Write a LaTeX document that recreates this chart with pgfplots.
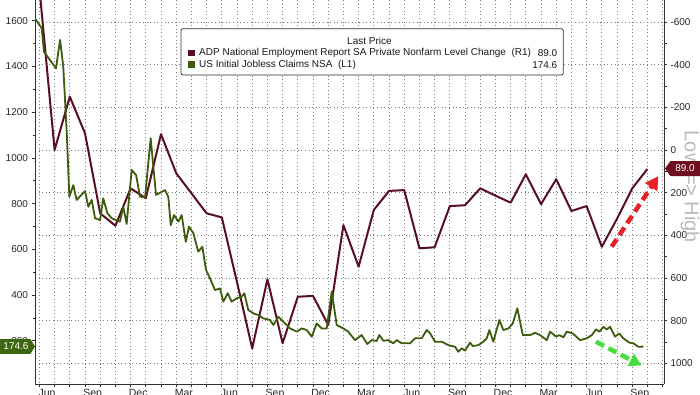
\documentclass[border=0pt]{standalone}
\usepackage{pgfplots}
\pgfplotsset{compat=1.18}
\usepackage{fontspec}
\setmainfont{Liberation Sans}
\usetikzlibrary{arrows.meta}
\definecolor{adp}{RGB}{88,16,32}
\definecolor{clm}{RGB}{60,92,14}
\definecolor{tagred}{RGB}{112,14,32}
\definecolor{taggreen}{RGB}{62,102,14}
\definecolor{arrred}{RGB}{232,32,42}
\definecolor{arrgreen}{RGB}{70,222,60}
\definecolor{gridc}{RGB}{125,125,125}
\definecolor{lowhigh}{RGB}{185,185,185}
\begin{document}
\begin{tikzpicture}[x=1pt,y=1pt]
\pgfplotsset{
  common/.style={
    at={(35pt,10pt)}, anchor=south west,
    scale only axis, width=629pt, height=384pt,
    xmin=-0.29, xmax=41.09,
    clip mode=individual,
    tick label style={font=\fontsize{10}{12}\selectfont, text=black!85},
    /pgf/number format/assume math mode=true,
    /pgf/number format/1000 sep={},
    tick align=outside,
    major tick length=3.5pt, minor tick length=2.5pt,
    tick style={black!80, line width=0.7pt},
    axis line style={black!80, line width=0.8pt},
    major grid style={gridc, line width=0.9pt, dash pattern=on 1pt off 2.6pt},
  }
}
% Right axis: ADP (inverted), carries the grid and the month ticks
\begin{axis}[common,
  axis y line*=right, axis x line*=bottom,
  ymin=-703, ymax=1097, y dir=reverse,
  ytick={-600,-400,-200,0,200,400,600,800,1000},
  minor ytick={-500,-300,-100,100,300,500,700,900},
  xtick={0,1,...,41}, xticklabels={},
  major tick length=3pt,
  grid=major,
]
\addplot[adp, line width=2pt, line join=round] coordinates {
(0,-760) (1,0) (2,-250) (3,-78) (4,297) (5,355) (6,180) (7,226) (8,-74) (9,109)
(10,203) (11,297) (12,316) (13,620) (14,930) (15,606) (16,906) (17,688) (18,684) (19,820)
(20,352) (21,547) (22,281) (23,192) (24,188) (25,461) (26,456) (27,263) (28,259) (29,180)
(30,214) (31,247) (32,114) (33,254) (34,137) (35,286) (36,263) (37,454) (38,322) (39,180) (40,89)
};
\end{axis}
% Left axis: initial jobless claims, carries the month names
\begin{axis}[common,
  axis y line*=left, axis x line*=bottom,
  ymin=11, ymax=1690.5,
  ytick={200,400,600,800,1000,1200,1400,1600},
  minor ytick={300,500,700,900,1100,1300,1500},
  xtick={0.5,3.5,6.5,9.5,12.5,15.5,18.5,21.5,24.5,27.5,30.5,33.5,36.5,39.5},
  xticklabels={Jun,Sep,Dec,Mar,Jun,Sep,Dec,Mar,Jun,Sep,Dec,Mar,Jun,Sep},
  x tick style={draw=none},
  x tick label style={font=\fontsize{10.5}{12}\selectfont, yshift=1.5pt},
]
\addplot[clm, line width=1.8pt, line join=round] coordinates {
(-0.29,1610) (0.15,1567) (0.30,1464) (1.09,1392) (1.36,1516) (1.57,1399) (1.80,1108) (1.97,830)
(2.23,881) (2.45,816) (3.00,855) (3.22,786) (3.44,816) (3.66,736) (3.99,728) (4.20,823)
(4.47,758) (4.76,736) (5.04,728) (5.30,721) (5.52,786) (5.74,711) (6.07,947) (6.36,925)
(6.62,830) (6.95,828) (7.32,1086) (7.67,838) (8.26,859) (8.48,830) (8.64,706) (8.86,750)
(9.14,721) (9.36,750) (9.63,633) (9.84,699) (10.13,670) (10.45,590) (10.72,611) (10.96,510)
(11.22,473) (11.55,422) (11.88,429) (12.10,371) (12.39,408) (12.65,371) (12.98,386) (13.31,393)
(13.48,408) (13.74,335) (14.07,320) (14.40,313) (14.73,298) (15.17,291) (15.39,269) (15.72,305)
(16.16,276) (16.49,254) (16.93,240) (17.26,254) (17.59,247) (17.92,218) (18.24,276) (18.57,254)
(18.90,254) (19.23,415) (19.56,269) (19.99,254) (20.32,240) (20.76,203) (21.20,225) (21.57,186)
(21.86,203) (22.19,199) (22.36,225) (22.63,200) (22.95,203) (23.28,189) (23.51,203) (23.84,189)
(24.38,189) (24.71,211) (25.15,211) (25.48,247) (25.70,233) (26.03,196) (26.47,196) (26.90,181)
(27.34,174) (27.56,152) (27.78,167) (28.00,157) (28.33,192) (28.51,177) (28.88,181) (29.20,196)
(29.43,211) (29.60,247) (29.86,196) (30.26,291) (30.52,247) (30.85,254) (31.14,276) (31.44,342)
(31.80,225) (32.28,225) (32.61,235) (32.93,225) (33.38,203) (33.59,240) (33.99,218) (34.20,225)
(34.47,215) (34.69,240) (35.09,232) (35.57,203) (36.01,211) (36.34,225) (36.62,250) (36.84,240)
(37.10,261) (37.32,250) (37.54,261) (37.87,218) (38.15,232) (38.41,211) (38.81,192) (39.07,189)
(39.40,174) (39.73,174.6)
};
\end{axis}
% Legend box
\draw[black!80, line width=0.8pt, fill=white, rounded corners=2pt] (181,365.3) rectangle (563.3,319);
\begin{scope}[every node/.style={font=\fontsize{10}{12}\selectfont, text=black!90, inner sep=0pt}]
\node[anchor=west] at (347,353) {Last Price};
\fill[adp] (188,337.6) rectangle (195,344.4);
\node[anchor=west] at (199,341) {ADP National Employment Report SA Private Nonfarm Level Change\ \ (R1)};
\node[anchor=east] at (557.5,341) {89.0};
\fill[clm] (188,325.9) rectangle (195,332.7);
\node[anchor=west] at (199,329.3) {US Initial Jobless Claims NSA\ \ (L1)};
\node[anchor=east] at (557.5,329.3) {174.6};
\end{scope}
% Low => High
\node[rotate=-90, text=lowhigh, font=\fontsize{20}{22}\selectfont, inner sep=0pt] at (690,207) {Low => High};
% Tags
\fill[taggreen] (0,54.8) -- (30.5,54.8) -- (35,47.5) -- (30.5,40.2) -- (0,40.2) -- cycle;
\node[text=white, font=\fontsize{10}{12}\selectfont, inner sep=0pt] at (16,47.5) {174.6};
\fill[tagred] (665,225.5) -- (670.5,233) -- (700,233) -- (700,218) -- (670.5,218) -- cycle;
\node[text=white, font=\fontsize{10}{12}\selectfont, inner sep=0pt] at (685,225.5) {89.0};
% Arrows
\draw[arrred, line width=4.5pt, dash pattern=on 9pt off 5pt,
  -{Triangle[length=13pt,width=14pt]}] (611.7,147.3) -- (658.3,217.8);
\draw[arrgreen, line width=4.5pt, dash pattern=on 9pt off 5pt,
  -{Triangle[length=12pt,width=13pt]}] (596,52.3) -- (641.5,28.5);
\pgfresetboundingbox
\useasboundingbox (0,0) rectangle (700,394);
\end{tikzpicture}
\end{document}
